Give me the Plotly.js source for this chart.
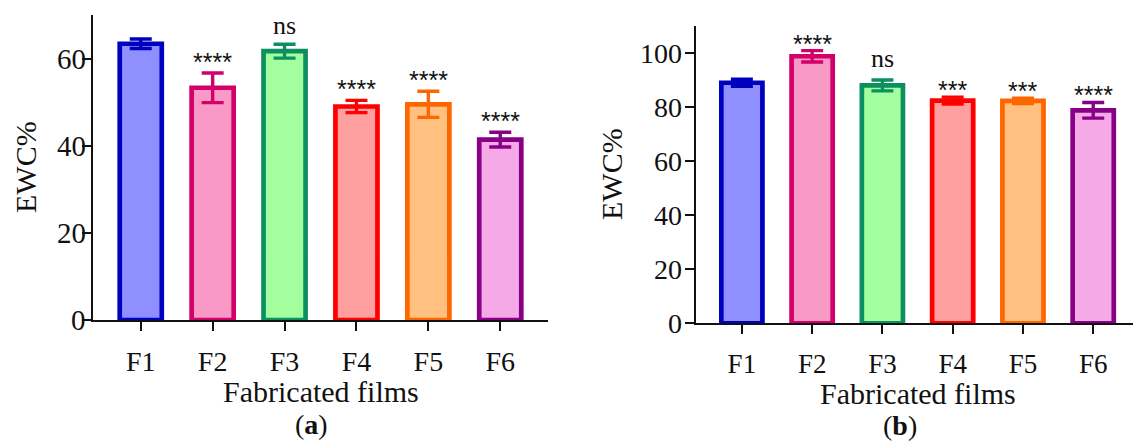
<!DOCTYPE html>
<html>
<head>
<meta charset="utf-8">
<script src="https://cdn.plot.ly/plotly-3.0.1.min.js"></script>
<style>
  html, body { margin: 0; padding: 0; background: #ffffff; }
  #chart { width: 1133px; height: 441px; }
</style>
</head>
<body>
<div id="chart"></div>
<script>
// ---- data ----
const films = ['F1', 'F2', 'F3', 'F4', 'F5', 'F6'];
const ewcA = [63.4, 53.3, 61.7, 49.0, 49.5, 41.4];
const errA = [1.1, 3.4, 1.6, 1.4, 3.0, 1.7];
const sigA = ['', '****', 'ns', '****', '****', '****'];
const ewcB = [89.0, 98.8, 88.0, 82.4, 82.3, 78.8];
const errB = [1.3, 2.1, 2.0, 1.3, 1.0, 2.9];
const sigB = ['', '****', 'ns', '***', '***', '****'];
const yTicksA = [0, 20, 40, 60];
const yTicksB = [0, 20, 40, 60, 80, 100];

// ---- styles ----
const fillColors = ['#8f8fff', '#f99ac6', '#a3ff9e', '#ffa0a0', '#ffc080', '#f5a9e6'];
const lineColors = ['#0000bf', '#d1006a', '#0e8f60', '#ff0000', '#ff6600', '#880088'];
const serif = 'Liberation Serif, Times New Roman, serif';

const traces = [];
function addBars(vals, errs, xa, ya) {
  films.forEach((f, i) => {
    traces.push({
      type: 'bar',
      x: [f],
      y: [vals[i]],
      xaxis: xa,
      yaxis: ya,
      width: 0.585,
      marker: { color: fillColors[i], line: { color: lineColors[i], width: 4.7 } },
      error_y: { type: 'data', array: [errs[i]], visible: true, color: lineColors[i], thickness: 3.4, width: 11 },
      showlegend: false,
      hoverinfo: 'x+y'
    });
  });
}
addBars(ewcA, errA, 'x', 'y');
addBars(ewcB, errB, 'x2', 'y2');

const annotations = [];
function addSig(vals, errs, sigs, xr, yr, starShift, nsShift) {
  sigs.forEach((s, i) => {
    if (!s) return;
    const isNs = s === 'ns';
    annotations.push({
      xref: xr, yref: yr, x: films[i], y: vals[i] + errs[i],
      text: s, showarrow: false, yanchor: 'middle',
      yshift: isNs ? nsShift : starShift,
      font: isNs ? { family: serif, size: 26, color: '#111' } : { family: 'Liberation Sans, Arial, sans-serif', size: 25, color: '#111' }
    });
  });
}
addSig(ewcA, errA, sigA, 'x', 'y', 11, 19);
addSig(ewcB, errB, sigB, 'x2', 'y2', 7, 22);

// y tick labels, placed on the y scale next to the ticks
function addYTickLabels(ticks, yr, xPix, size) {
  ticks.forEach(v => {
    annotations.push({
      xref: 'paper', yref: yr, x: xPix / 1133, y: v, text: String(v),
      showarrow: false, xanchor: 'right', yanchor: 'middle',
      font: { family: serif, size: size, color: '#111' }
    });
  });
}
addYTickLabels(yTicksA, 'y', 88, 29);
addYTickLabels(yTicksB, 'y2', 684, 28);

const titleFont = { family: serif, size: 30, color: '#111' };
const labFont = { family: serif, size: 28, color: '#111' };
annotations.push(
  { xref: 'paper', yref: 'paper', x: 25 / 1133, y: (441 - 167) / 441, text: 'EWC%', textangle: -90, showarrow: false, font: titleFont, xanchor: 'center', yanchor: 'middle' },
  { xref: 'paper', yref: 'paper', x: 611 / 1133, y: (441 - 174) / 441, text: 'EWC%', textangle: -90, showarrow: false, font: titleFont, xanchor: 'center', yanchor: 'middle' },
  { xref: 'paper', yref: 'paper', x: 321 / 1133, y: (441 - 391) / 441, text: 'Fabricated films', showarrow: false, font: titleFont, xanchor: 'center', yanchor: 'middle' },
  { xref: 'paper', yref: 'paper', x: 918 / 1133, y: (441 - 393) / 441, text: 'Fabricated films', showarrow: false, font: titleFont, xanchor: 'center', yanchor: 'middle' },
  { xref: 'paper', yref: 'paper', x: 311 / 1133, y: (441 - 424) / 441, text: '(<b>a</b>)', showarrow: false, font: labFont, xanchor: 'center', yanchor: 'middle' },
  { xref: 'paper', yref: 'paper', x: 900 / 1133, y: (441 - 425) / 441, text: '(<b>b</b>)', showarrow: false, font: labFont, xanchor: 'center', yanchor: 'middle' }
);

const xCommon = {
  type: 'category', showline: true, linecolor: '#111', linewidth: 2,
  ticks: 'outside', ticklen: 9, tickwidth: 2, tickcolor: '#111',
  showgrid: false, zeroline: false, fixedrange: true,
  ticklabelstandoff: 6,
  tickfont: { family: serif, size: 28, color: '#111' }
};
const yCommon = {
  showline: true, linecolor: '#111', linewidth: 2,
  ticks: 'outside', ticklen: 9, tickwidth: 2, tickcolor: '#111',
  showgrid: false, zeroline: false, fixedrange: true,
  showticklabels: false
};

const layout = {
  width: 1133, height: 441,
  margin: { l: 0, r: 0, t: 0, b: 0 },
  paper_bgcolor: '#ffffff', plot_bgcolor: '#ffffff',
  barmode: 'overlay',
  showlegend: false,
  xaxis: Object.assign({}, xCommon, { domain: [93.3 / 1133, 547.7 / 1133], range: [-0.66, 5.66], anchor: 'y' }),
  yaxis: Object.assign({}, yCommon, { domain: [(441 - 320) / 441, (441 - 15) / 441], range: [0, 70], tickvals: yTicksA, anchor: 'x' }),
  xaxis2: Object.assign({}, xCommon, { domain: [695.5 / 1133, 1], range: [-0.66, 5.566], anchor: 'y2', tickfont: { family: serif, size: 27, color: '#111' } }),
  yaxis2: Object.assign({}, yCommon, { domain: [(441 - 323.3) / 441, (441 - 26) / 441], range: [0, 110], tickvals: yTicksB, anchor: 'x2' }),
  annotations: annotations
};

Plotly.newPlot('chart', traces, layout, { displayModeBar: false, staticPlot: true });
</script>
</body>
</html>
